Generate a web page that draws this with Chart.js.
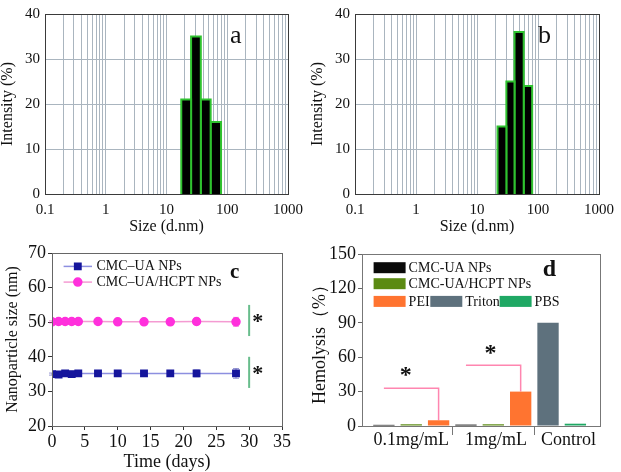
<!DOCTYPE html>
<html>
<head>
<meta charset="utf-8">
<script src="https://cdn.jsdelivr.net/npm/chart.js@4.4.1/dist/chart.umd.min.js"></script>
<style>
  body { margin: 0; background: #fff; }
  #wrap { position: relative; width: 621px; height: 472px; overflow: hidden; background: #fff; }
  canvas { position: absolute; }
</style>
</head>
<body>
<div id="wrap">
  <canvas id="dlsA" width="310" height="235" style="left:0;top:0"></canvas>
  <canvas id="dlsB" width="311" height="235" style="left:310px;top:0"></canvas>
  <canvas id="stability" width="310" height="237" style="left:0;top:235px"></canvas>
  <canvas id="hemolysis" width="311" height="237" style="left:310px;top:235px"></canvas>
</div>
<script>
// ---- panels a / b : size distribution (DLS) ----
const sizeTicks = [0.1, 1, 10, 100, 1000];
const intensityTicks = [0, 10, 20, 30, 40];
const binEdgesA = [17.5, 25.4, 36.7, 53.3, 79];
const intensityA = [21, 35, 21, 16];
const binEdgesB = [21.7, 30.3, 41.2, 58.3, 80.2];
const intensityB = [15, 25, 36, 24];

// ---- panel c : stability over time ----
const days = [0, 1, 2, 3, 4, 7, 10, 14, 18, 22, 28];
const sizeUA = [35.0, 34.9, 35.2, 35.0, 35.2, 35.2, 35.2, 35.2, 35.2, 35.2, 35.2];
const errUA = [0.3, 0.4, 0.4, 0.4, 0.4, 0.6, 0.5, 0.5, 0.6, 1.0, 1.4];
const sizeHCPT = [50.1, 50.2, 50.2, 50.2, 50.2, 50.2, 50.1, 50.1, 50.1, 50.2, 50.1];
const errHCPT = [0.3, 0.3, 0.3, 0.3, 0.3, 0.5, 0.5, 0.5, 0.6, 0.9, 1.3];
const sigDay = 30;
const sigRanges = [[46, 55], [31, 40]];
const sigStars = [[31.3, 50], [31.3, 35]];

// ---- panel d : hemolysis ----
const groups = ['0.1mg/mL', '1mg/mL', 'Control'];
const groupPos = [2, 5.1, 7.75];
const groupSplits = [3.5, 6.5];
const hemoLabels = ['CMC-UA NPs', 'CMC-UA/HCPT NPs', 'PEI', 'Triton', 'PBS'];
const hemoSlots = [[1, 4], [2, 5], [3, 6], [7], [8]];
const hemoValues = [[1.0, 1.2], [1.5, 1.5], [5, 30], [90], [2]];
const hemoColors = ['#0a0a0a', '#5b8a12', '#ff7430', '#5e717d', '#1fa864'];
const brackets = [[[1, 33], [3, 33], [3, 5]], [[4, 53], [6, 53], [6, 30]]];
const hemoStars = [[1.8, 44], [4.9, 63]];

Chart.defaults.font.family = '"Liberation Serif", "Times New Roman", serif';
Chart.defaults.color = '#111';
Chart.defaults.animation = false;
Chart.defaults.responsive = false;
Chart.defaults.plugins.legend.display = false;
Chart.defaults.plugins.tooltip.enabled = false;

const frame = {
  id: 'frame',
  afterDatasetsDraw(chart, args, opts) {
    const a = chart.chartArea, ctx = chart.ctx;
    ctx.save();
    ctx.strokeStyle = opts.color || '#333';
    ctx.lineWidth = 1;
    ctx.strokeRect(a.left + 0.5, a.top + 0.5, a.right - a.left, a.bottom - a.top);
    (opts.marks || []).forEach(v => {
      const px = Math.round(chart.scales.x.getPixelForValue(v)) + 0.5;
      ctx.beginPath(); ctx.moveTo(px, a.bottom); ctx.lineTo(px, a.bottom + opts.markLen); ctx.stroke();
    });
    ctx.restore();
  }
};

const notes = {
  id: 'notes',
  afterDatasetsDraw(chart, args, opts) {
    const ctx = chart.ctx, xs = chart.scales.x, ys = chart.scales.y;
    ctx.save();
    (opts.items || []).forEach(it => {
      ctx.font = it.font;
      ctx.fillStyle = it.color || '#111';
      ctx.textAlign = 'center';
      ctx.textBaseline = 'middle';
      ctx.fillText(it.text, xs.getPixelForValue(it.x), ys.getPixelForValue(it.y));
    });
    ctx.restore();
  }
};

const errorBars = {
  id: 'errorBars',
  beforeDatasetsDraw(chart) {
    const ctx = chart.ctx, xs = chart.scales.x, ys = chart.scales.y;
    chart.data.datasets.forEach(ds => {
      if (!ds.errors) return;
      ctx.save();
      ctx.strokeStyle = ds.errorColor;
      ctx.lineWidth = 1;
      ds.data.forEach((p, i) => {
        const px = xs.getPixelForValue(p.x), e = ds.errors[i];
        const top = ys.getPixelForValue(p.y + e), bot = ys.getPixelForValue(p.y - e);
        ctx.beginPath();
        ctx.moveTo(px, top); ctx.lineTo(px, bot);
        ctx.moveTo(px - 3, top); ctx.lineTo(px + 3, top);
        ctx.moveTo(px - 3, bot); ctx.lineTo(px + 3, bot);
        ctx.stroke();
      });
      ctx.restore();
    });
  }
};

// legend with line + marker (panel c)
const lineLegend = {
  id: 'lineLegend',
  afterDatasetsDraw(chart, args, opts) {
    if (!opts.show) return;
    const a = chart.chartArea, ctx = chart.ctx;
    ctx.save();
    chart.data.datasets.filter(ds => ds.inLegend).forEach((ds, i) => {
      const y = a.top + opts.top + i * opts.rowGap;
      const x0 = a.left + opts.left;
      ctx.strokeStyle = ds.borderColor;
      ctx.lineWidth = 1.5;
      ctx.beginPath(); ctx.moveTo(x0, y); ctx.lineTo(x0 + opts.lineLen, y); ctx.stroke();
      ctx.fillStyle = ds.pointBackgroundColor;
      ctx.strokeStyle = ds.pointBorderColor;
      Chart.helpers.drawPoint(ctx, {pointStyle: ds.pointStyle, radius: ds.pointRadius, rotation: 0, borderWidth: 1}, x0 + opts.lineLen / 2, y);
      ctx.fillStyle = '#111';
      ctx.font = opts.font;
      ctx.textAlign = 'left';
      ctx.textBaseline = 'middle';
      ctx.fillText(ds.label, x0 + opts.lineLen + opts.textGap, y);
    });
    ctx.restore();
  }
};

// legend with swatches (panel d)
const boxLegend = {
  id: 'boxLegend',
  afterDatasetsDraw(chart, args, opts) {
    if (!opts.items) return;
    const a = chart.chartArea, ctx = chart.ctx;
    ctx.save();
    opts.items.forEach(it => {
      const ds = chart.data.datasets[it.ds];
      const x = a.left + it.x, y = a.top + it.y;
      ctx.fillStyle = ds.backgroundColor;
      ctx.fillRect(x, y - opts.boxH / 2, opts.boxW, opts.boxH);
      ctx.fillStyle = '#111';
      ctx.font = opts.font;
      ctx.textAlign = 'left';
      ctx.textBaseline = 'middle';
      ctx.fillText(ds.label, x + opts.boxW + opts.textGap, y + 1);
    });
    ctx.restore();
  }
};

// ---------- panels a, b ----------
const logGrid = [];
sizeTicks.slice(0, -1).forEach(d => {
  for (let k = 1; k < 10; k++) logGrid.push(+(d * k).toPrecision(3));
});
logGrid.push(sizeTicks[sizeTicks.length - 1]);

function histSets(edges, vals) {
  return vals.map((v, i) => ({
    data: [{x: edges[i], y: 0}, {x: edges[i], y: v}, {x: edges[i + 1], y: v}, {x: edges[i + 1], y: 0}],
    fill: 'origin',
    backgroundColor: '#000',
    borderColor: '#2fc22f',
    borderWidth: 2,
    pointRadius: 0,
    tension: 0
  }));
}

function dlsChart(id, edges, vals, letter) {
  return new Chart(document.getElementById(id), {
    type: 'line',
    data: {datasets: histSets(edges, vals)},
    options: {
      layout: {padding: {top: 9, right: 17, left: 0, bottom: 0}},
      plugins: {
        frame: {color: '#3a3a3a'},
        notes: {items: [letter]}
      },
      scales: {
        x: {
          type: 'logarithmic', min: 0.1, max: 1000,
          afterBuildTicks: s => { s.ticks = logGrid.map(v => ({value: v})); },
          afterFit: s => { s.height = 41; },
          grid: {color: '#aab5bf', drawTicks: false},
          border: {color: '#3a3a3a'},
          ticks: {autoSkip: false, maxRotation: 0, padding: 7, font: {size: 15},
                  callback: v => sizeTicks.includes(v) ? String(v) : ''},
          title: {display: true, text: 'Size (d.nm)', font: {size: 16, lineHeight: 1}, padding: 0}
        },
        y: {
          min: 0, max: 40,
          afterBuildTicks: s => { s.ticks = intensityTicks.map(v => ({value: v})); },
          afterFit: s => { s.width = 45; },
          grid: {color: '#aab5bf', drawTicks: false},
          border: {color: '#3a3a3a'},
          ticks: {padding: 5, font: {size: 15}},
          title: {display: true, text: 'Intensity (%)', font: {size: 16, lineHeight: 1}, padding: 0}
        }
      }
    },
    plugins: [frame, notes]
  });
}

dlsChart('dlsA', binEdgesA, intensityA, {text: 'a', x: 138, y: 35, font: '26px "Liberation Serif"'});
dlsChart('dlsB', binEdgesB, intensityB, {text: 'b', x: 128, y: 35, font: '26px "Liberation Serif"'});

// ---------- panel c ----------
const stabSets = [
  {
    label: 'CMC–UA NPs', inLegend: true,
    data: sizeUA.map((v, i) => ({x: days[i], y: v})),
    errors: errUA, errorColor: 'rgba(60,60,170,0.55)',
    borderColor: '#8d8fe0', borderWidth: 1.5,
    pointStyle: 'rect', pointRadius: 4.5,
    pointBackgroundColor: '#15159c', pointBorderColor: '#15159c'
  },
  {
    label: 'CMC–UA/HCPT NPs', inLegend: true,
    data: sizeHCPT.map((v, i) => ({x: days[i], y: v})),
    errors: errHCPT, errorColor: 'rgba(230,80,200,0.55)',
    borderColor: '#f49bd2', borderWidth: 1.5,
    pointStyle: 'circle', pointRadius: 4,
    pointBackgroundColor: '#ff30dc', pointBorderColor: '#ff30dc'
  }
].concat(sigRanges.map(r => ({
  data: [{x: sigDay, y: r[0]}, {x: sigDay, y: r[1]}],
  borderColor: '#68bd8c', borderWidth: 2, pointRadius: 0
})));

new Chart(document.getElementById('stability'), {
  type: 'line',
  data: {datasets: stabSets},
  options: {
    layout: {padding: {top: 18, right: 28, left: 0, bottom: 0}},
    plugins: {
      frame: {color: '#666'},
      lineLegend: {show: true, top: 13.4, left: 11.6, rowGap: 15.7, lineLen: 28.4, textGap: 4.5, font: '14px "Liberation Serif"'},
      notes: {items: [{text: 'c', x: 27.8, y: 64.3, font: 'bold 21px "Liberation Serif"'}]
        .concat(sigStars.map(s => ({text: '*', x: s[0], y: s[1], font: 'bold 22px "Liberation Serif"'})))}
    },
    scales: {
      x: {
        type: 'linear', min: 0, max: 35,
        ticks: {stepSize: 5, padding: 1, font: {size: 18}, maxRotation: 0},
        afterFit: s => { s.height = 46; },
        grid: {drawOnChartArea: false, tickLength: 4, color: '#333'},
        border: {color: '#222'},
        title: {display: true, text: 'Time (days)', font: {size: 18, lineHeight: 1}, padding: {top: 0, bottom: 1}}
      },
      y: {
        min: 20, max: 70,
        ticks: {stepSize: 10, padding: 2, font: {size: 18}},
        afterFit: s => { s.width = 52; },
        grid: {drawOnChartArea: false, tickLength: 4, color: '#333'},
        border: {color: '#222'},
        title: {display: true, text: 'Nanoparticle size (nm)', font: {size: 16, lineHeight: 1.2}, padding: {top: 3, bottom: 0}}
      }
    }
  },
  plugins: [frame, errorBars, lineLegend, notes]
});

// ---------- panel d ----------
const hemoSets = hemoLabels.map((lab, k) => ({
  type: 'bar',
  label: lab,
  data: hemoSlots[k].map((s, i) => ({x: s, y: hemoValues[k][i]})),
  backgroundColor: hemoColors[k],
  grouped: false,
  categoryPercentage: 1,
  barPercentage: 0.78
})).concat(brackets.map(b => ({
  type: 'line',
  data: b.map(p => ({x: p[0], y: p[1]})),
  borderColor: '#ff86b0', borderWidth: 1.5, pointRadius: 0, fill: false
})));

new Chart(document.getElementById('hemolysis'), {
  type: 'bar',
  data: {datasets: hemoSets},
  options: {
    layout: {padding: {top: 19, right: 21, left: 0, bottom: 0}},
    plugins: {
      frame: {color: '#777', marks: groupSplits, markLen: 9},
      boxLegend: {
        boxW: 32, boxH: 11, textGap: 3, font: '14px "Liberation Serif"',
        items: [
          {ds: 0, x: 11.6, y: 13.7}, {ds: 1, x: 11.6, y: 29.7},
          {ds: 2, x: 11.6, y: 47.4}, {ds: 3, x: 68.3, y: 47.4}, {ds: 4, x: 137.6, y: 47.4}
        ]
      },
      notes: {items: [{text: 'd', x: 7.05, y: 136, font: 'bold 24px "Liberation Serif"'}]
        .concat(hemoStars.map(s => ({text: '*', x: s[0], y: s[1], font: 'bold 24px "Liberation Serif"'})))}
    },
    scales: {
      x: {
        type: 'linear', min: 0.2, max: 8.9, offset: false,
        afterBuildTicks: s => { s.ticks = groupPos.map(v => ({value: v})); },
        afterFit: s => { s.height = 46; },
        ticks: {autoSkip: false, maxRotation: 0, padding: 3, font: {size: 18}, callback: (v, i) => groups[i]},
        grid: {display: false, drawTicks: false, offset: false},
        border: {color: '#666'}
      },
      y: {
        min: 0, max: 150,
        ticks: {stepSize: 30, padding: 2, font: {size: 18}},
        afterFit: s => { s.width = 52; },
        grid: {drawOnChartArea: false, tickLength: 4, color: '#666'},
        border: {color: '#666'},
        title: {display: true, text: 'Hemolysis（%）', font: {size: 18, lineHeight: 1}, padding: {top: 1, bottom: 0}}
      }
    }
  },
  plugins: [frame, boxLegend, notes]
});
</script>
</body>
</html>
